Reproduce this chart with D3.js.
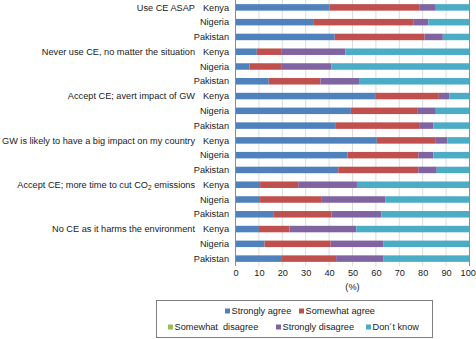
<!DOCTYPE html>
<html>
<head>
<meta charset="utf-8">
<script src="https://cdn.jsdelivr.net/npm/d3@7"></script>
<style>
  html, body { margin: 0; padding: 0; background: #fff; }
  svg { display: block; font-family: "Liberation Sans", Arial, sans-serif; }
  .lbl { font-size: 9.2px; fill: #1a1a1a; }
</style>
</head>
<body>
<svg id="chart" width="476" height="339"></svg>
<script>
const questions = [
  "Use CE ASAP",
  "Never use CE, no matter the situation",
  "Accept CE; avert impact of GW",
  "GW is likely to have a big impact on my country",
  "Accept CE; more time to cut CO2 emissions",
  "No CE as it harms the environment"
];
const countries = ["Kenya", "Nigeria", "Pakistan"];
const series = ["Strongly agree", "Somewhat agree", "Somewhat  disagree", "Strongly disagree", "Don\u00b4t know"];
const colors = ["#4f81bd", "#c0504d", "#9bbb59", "#8064a2", "#4bacc6"];

// one value per bar (question x country), top to bottom
const stronglyAgree   = [40.2, 33.5, 42.4,  9.1,  6.0, 14.2, 59.7, 49.3, 42.9, 60.4, 47.9, 43.9, 10.5, 10.5, 16.4, 10.0, 12.4, 19.9];
const somewhatAgree   = [38.3, 42.7, 38.4, 10.4, 13.5, 22.1, 27.2, 28.3, 35.9, 25.2, 30.2, 34.2, 16.3, 26.1, 24.6, 13.1, 28.3, 23.1];
const somewhatDisagr  = [0, 0, 0, 0, 0, 0, 0, 0, 0, 0, 0, 0, 0, 0, 0, 0, 0, 0];
const stronglyDisagr  = [ 7.1,  6.3,  7.8, 27.4, 21.5, 16.5,  4.6,  8.0,  5.8,  4.9,  6.5,  7.9, 25.1, 27.5, 21.3, 28.5, 22.4, 20.1];
const dontKnow        = [14.4, 17.5, 11.4, 53.1, 59.0, 47.2,  8.5, 14.4, 15.4,  9.5, 15.4, 14.0, 48.1, 35.9, 37.7, 48.4, 36.9, 36.9];
const xTicks = [0, 10, 20, 30, 40, 50, 60, 70, 80, 90, 100];

const rows = [];
questions.forEach((q, qi) => countries.forEach((c, ci) => {
  const i = qi * 3 + ci;
  rows.push({ key: i, q, c, first: ci === 0,
    s0: stronglyAgree[i], s1: somewhatAgree[i], s2: somewhatDisagr[i], s3: stronglyDisagr[i], s4: dontKnow[i] });
}));

const plot = { left: 235.5, right: 469.5, top: 0, bottom: 266 };
const svg = d3.select("#chart");

const x = d3.scaleLinear().domain([0, 100]).range([plot.left, plot.right]);
const y = d3.scaleBand().domain(rows.map(d => d.key)).range([plot.top, plot.bottom])
  .paddingInner(0.56).paddingOuter(0.28);

// gridlines
svg.append("g")
  .selectAll("line")
  .data(xTicks.filter(t => t > 0 && t < 100))
  .join("line")
  .attr("x1", d => x(d)).attr("x2", d => x(d))
  .attr("y1", plot.top).attr("y2", plot.bottom)
  .attr("stroke", "#dcdcdc").attr("stroke-width", 1);

// bars
const stack = d3.stack().keys(["s0", "s1", "s2", "s3", "s4"]);
const layers = stack(rows);
svg.append("g")
  .selectAll("g")
  .data(layers)
  .join("g")
  .attr("fill", (d, i) => colors[i])
  .selectAll("rect")
  .data(d => d)
  .join("rect")
  .attr("x", d => x(d[0]))
  .attr("width", d => Math.max(0, x(d[1]) - x(d[0])))
  .attr("y", d => y(d.data.key))
  .attr("height", y.bandwidth());

// frame lines
svg.append("line")
  .attr("x1", plot.left).attr("x2", plot.left)
  .attr("y1", plot.top).attr("y2", plot.bottom)
  .attr("stroke", "#8c8c8c");
svg.append("line")
  .attr("x1", plot.right).attr("x2", plot.right)
  .attr("y1", plot.top).attr("y2", plot.bottom)
  .attr("stroke", "#8c8c8c");

// x axis labels
svg.append("g")
  .attr("transform", `translate(0,${plot.bottom})`)
  .call(d3.axisBottom(x).tickValues(xTicks).tickSize(0).tickPadding(3))
  .call(g => g.select(".domain").remove())
  .call(g => g.selectAll("text").attr("class", "lbl").attr("font-size", null).attr("font-family", null).attr("fill", null))
  .call(g => g.selectAll("text").filter(d => d === 100).attr("dx", -1.8));

svg.append("text")
  .attr("class", "lbl")
  .attr("x", x(50)).attr("y", 289.5)
  .attr("text-anchor", "middle")
  .text("(%)");

// y labels
const yl = svg.append("g");
yl.selectAll("text.country")
  .data(rows)
  .join("text")
  .attr("class", "lbl country")
  .attr("x", 229)
  .attr("y", d => y(d.key) + y.bandwidth() / 2)
  .attr("dy", "0.35em")
  .attr("text-anchor", "end")
  .text(d => d.c);

yl.selectAll("text.question")
  .data(rows.filter(d => d.first))
  .join("text")
  .attr("class", "lbl question")
  .attr("x", 195)
  .attr("y", d => y(d.key) + y.bandwidth() / 2)
  .attr("dy", "0.35em")
  .attr("text-anchor", "end")
  .each(function(d) {
    const t = d3.select(this);
    if (d.q.indexOf("CO2") >= 0) {
      const parts = d.q.split("CO2");
      t.append("tspan").text(parts[0] + "CO");
      t.append("tspan").attr("font-size", "6.5px").attr("dy", "2").text("2");
      t.append("tspan").attr("dy", "-2").text(parts[1]);
    } else {
      t.text(d.q);
    }
  });

// legend
const legend = svg.append("g");
legend.append("rect")
  .attr("x", 156.5).attr("y", 300.5)
  .attr("width", 276).attr("height", 37)
  .attr("fill", "#fff").attr("stroke", "#7f7f7f");

const legX = [225, 299, 168, 276, 366];
const legY = [311, 311, 327, 327, 327];
const items = legend.selectAll("g.item")
  .data(series)
  .join("g")
  .attr("class", "item")
  .attr("transform", (d, i) => `translate(${legX[i]},${legY[i]})`);
items.append("rect")
  .attr("x", 0).attr("y", -2.5)
  .attr("width", 5).attr("height", 5)
  .attr("fill", (d, i) => colors[i]);
items.append("text")
  .attr("class", "lbl")
  .attr("x", 6.5)
  .attr("dy", "0.35em")
  .style("white-space", "pre")
  .attr("xml:space", "preserve")
  .text(d => d);
</script>
</body>
</html>
